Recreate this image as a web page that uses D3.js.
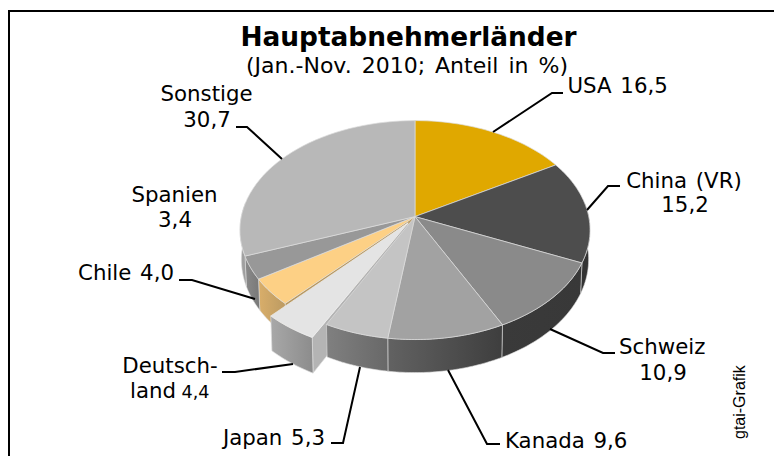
<!DOCTYPE html>
<html><head><meta charset="utf-8">
<script src="https://cdn.jsdelivr.net/npm/d3@7"></script>
<style>html,body{margin:0;padding:0;background:#fff}svg{display:block}text{font-family:"DejaVu Sans",sans-serif;fill:#000}</style>
</head><body><svg id="c" width="774" height="456"></svg>
<script>
const categories=["USA","China (VR)","Schweiz","Kanada","Japan","Deutschland","Chile","Spanien","Sonstige"];
const values=[16.5,15.2,10.9,9.6,5.3,4.4,4.0,3.4,30.7];
const explodedCategory="Deutschland";
const topColors=["#e0a800","#4d4d4d","#8a8a8a","#a2a2a2","#c4c4c4","#e4e4e4","#fdd085","#989898","#b8b8b8"];
const wallLeft=["#a88000","#333333","#3a3a3a","#626262","#808080","#a8a8a8","#d9ae6a","#8a8a8a","#a6a6a6"];
const wallRight=["#a88000","#333333","#383838","#3e3e3e","#686868","#8c8c8c","#bb9a62","#787878","#9a9a9a"];

const svg=d3.select("#c");
const defs=svg.append("defs");
const cx=415,cy=216.6,a=173.7,b=107.8,p=0.123,d=29,bottomScale=0.992,explode=0.115,apexExplode=0.07,explodedDepth=1.08;

function proj(u,v,low,depth){
  const w=1-p*v;
  const s=low?bottomScale:1;
  return [cx+s*a*u/w, cy+(b*v+(low?d*(depth||1):0))/w];
}
const line=d3.line();
const arcs=d3.pie().sort(null).value(x=>x)(values).map((s,i)=>{
  const mid=(s.startAngle+s.endAngle)/2, isEx=categories[i]===explodedCategory;
  const off=isEx?[Math.sin(mid)*explode,-Math.cos(mid)*explode]:[0,0];
  const apex=isEx?[Math.sin(mid)*apexExplode,-Math.cos(mid)*apexExplode]:[0,0];
  return {...s,i,off,apex,depth:isEx?explodedDepth:1};
});
const circ=(t,s,low)=>proj(Math.sin(t)+s.off[0],-Math.cos(t)+s.off[1],low,s.depth);
const samples=s=>d3.range(0,41).map(k=>s.startAngle+(s.endAngle-s.startAngle)*k/40);

function topPath(s){
  const c=proj(s.apex[0],s.apex[1],false);
  return line([c,...samples(s).map(t=>circ(t,s,false))])+"Z";
}
function wallPath(s,t0,t1){
  const ts=d3.range(0,41).map(k=>t0+(t1-t0)*k/40);
  return line([...ts.map(t=>circ(t,s,false)),...ts.slice().reverse().map(t=>circ(t,s,true))])+"Z";
}
function radialWall(s,t){
  const c=s.apex, e=[Math.sin(t)+s.off[0],-Math.cos(t)+s.off[1]];
  return line([proj(c[0],c[1],false),proj(e[0],e[1],false),proj(e[0],e[1],true,s.depth),proj(c[0],c[1],true,s.depth)])+"Z";
}
arcs.forEach(s=>{
  const g=defs.append("linearGradient").attr("id","w"+s.i).attr("x1","0%").attr("x2","100%");
  g.append("stop").attr("offset","0%").attr("stop-color",wallLeft[s.i]);
  g.append("stop").attr("offset","100%").attr("stop-color",wallRight[s.i]);
});
const edge="#dcdcdc";
const visible=s=>{
  const t0=Math.max(s.startAngle,Math.PI/2-0.13), t1=Math.min(s.endAngle,3*Math.PI/2+0.13);
  return t1>t0?[t0,t1]:null;
};
const normal=arcs.filter(s=>categories[s.i]!==explodedCategory);
const expl=arcs.filter(s=>categories[s.i]===explodedCategory);
expl.forEach(s=>{
  const next=arcs[s.i+1];
  svg.append("path").attr("d",radialWall(next,next.startAngle)).attr("fill","#b89860");
  svg.append("path").attr("d",radialWall(s,s.startAngle)).attr("fill","#b4b4b4").attr("stroke",edge).attr("stroke-width",0.7);
});
normal.forEach(s=>{const r=visible(s); if(!r)return;
  svg.append("path").attr("d",wallPath(s,r[0],r[1])).attr("fill",`url(#w${s.i})`).attr("stroke",edge).attr("stroke-width",0.6);
});
normal.forEach(s=>{
  svg.append("path").attr("d",topPath(s)).attr("fill",topColors[s.i]).attr("stroke",edge).attr("stroke-width",0.7);
});
expl.forEach(s=>{
  const r=visible(s);
  svg.append("path").attr("d",wallPath(s,r[0],r[1])).attr("fill",`url(#w${s.i})`).attr("stroke",edge).attr("stroke-width",0.7);
  svg.append("path").attr("d",topPath(s)).attr("fill",topColors[s.i]).attr("stroke","#efefef").attr("stroke-width",0.7);
});

const frame=[[9,456],[9,11],[774,11]];
svg.append("path").attr("d",line(frame)).attr("fill","none").attr("stroke","#000").attr("stroke-width",2);

const leaders=[
 [[493,132],[552,93],[563,93]],
 [[587,210],[608,186],[620,186]],
 [[550,329],[603,353],[615,353]],
 [[448,370],[487,444],[500,444]],
 [[360,367],[343,443],[331,443]],
 [[293,364],[235,372],[222,372]],
 [[255,299],[192,280],[179,280]],
 [[282,159],[247,127],[236,127]]
];
leaders.forEach(l=>svg.append("path").attr("d",line(l)).attr("fill","none").attr("stroke","#000").attr("stroke-width",2));

const LS=21.3;
const T=(x,y,s,fs,anchor,w,ws)=>svg.append("text").attr("x",x).attr("y",y).attr("font-size",fs).attr("text-anchor",anchor||"middle").attr("font-weight",w||"normal").attr("word-spacing",ws||0).text(s);
T(408.5,46,"Hauptabnehmerländer",26.4,"middle","bold");
T(407,73,"(Jan.-Nov. 2010; Anteil in %)",22,"middle","normal",3);
T(567.5,93,"USA 16,5",LS,"start","normal",2);
T(684,188,"China (VR)",LS,"middle","normal",2);
T(685,212,"15,2",LS);
T(619,354,"Schweiz",LS,"start");
T(663,380,"10,9",LS);
T(505,448,"Kanada 9,6",LS,"start","normal",2);
T(325,445,"Japan 5,3",LS,"end","normal",2);
T(170,373,"Deutsch-",LS);
T(130,398,"land",LS,"start");
T(181.5,398,"4,4",17.6,"start");
T(174,280,"Chile 4,0",LS,"end","normal",2);
T(174.5,202,"Spanien",LS);
T(175,227,"3,4",LS);
T(206.5,101,"Sonstige",LS);
T(207,127,"30,7",LS);
svg.append("text").attr("transform","translate(744.5,439) rotate(-90)").attr("font-size",16).style("font-family","'Liberation Sans',sans-serif").text("gtai-Grafik");
</script></body></html>
